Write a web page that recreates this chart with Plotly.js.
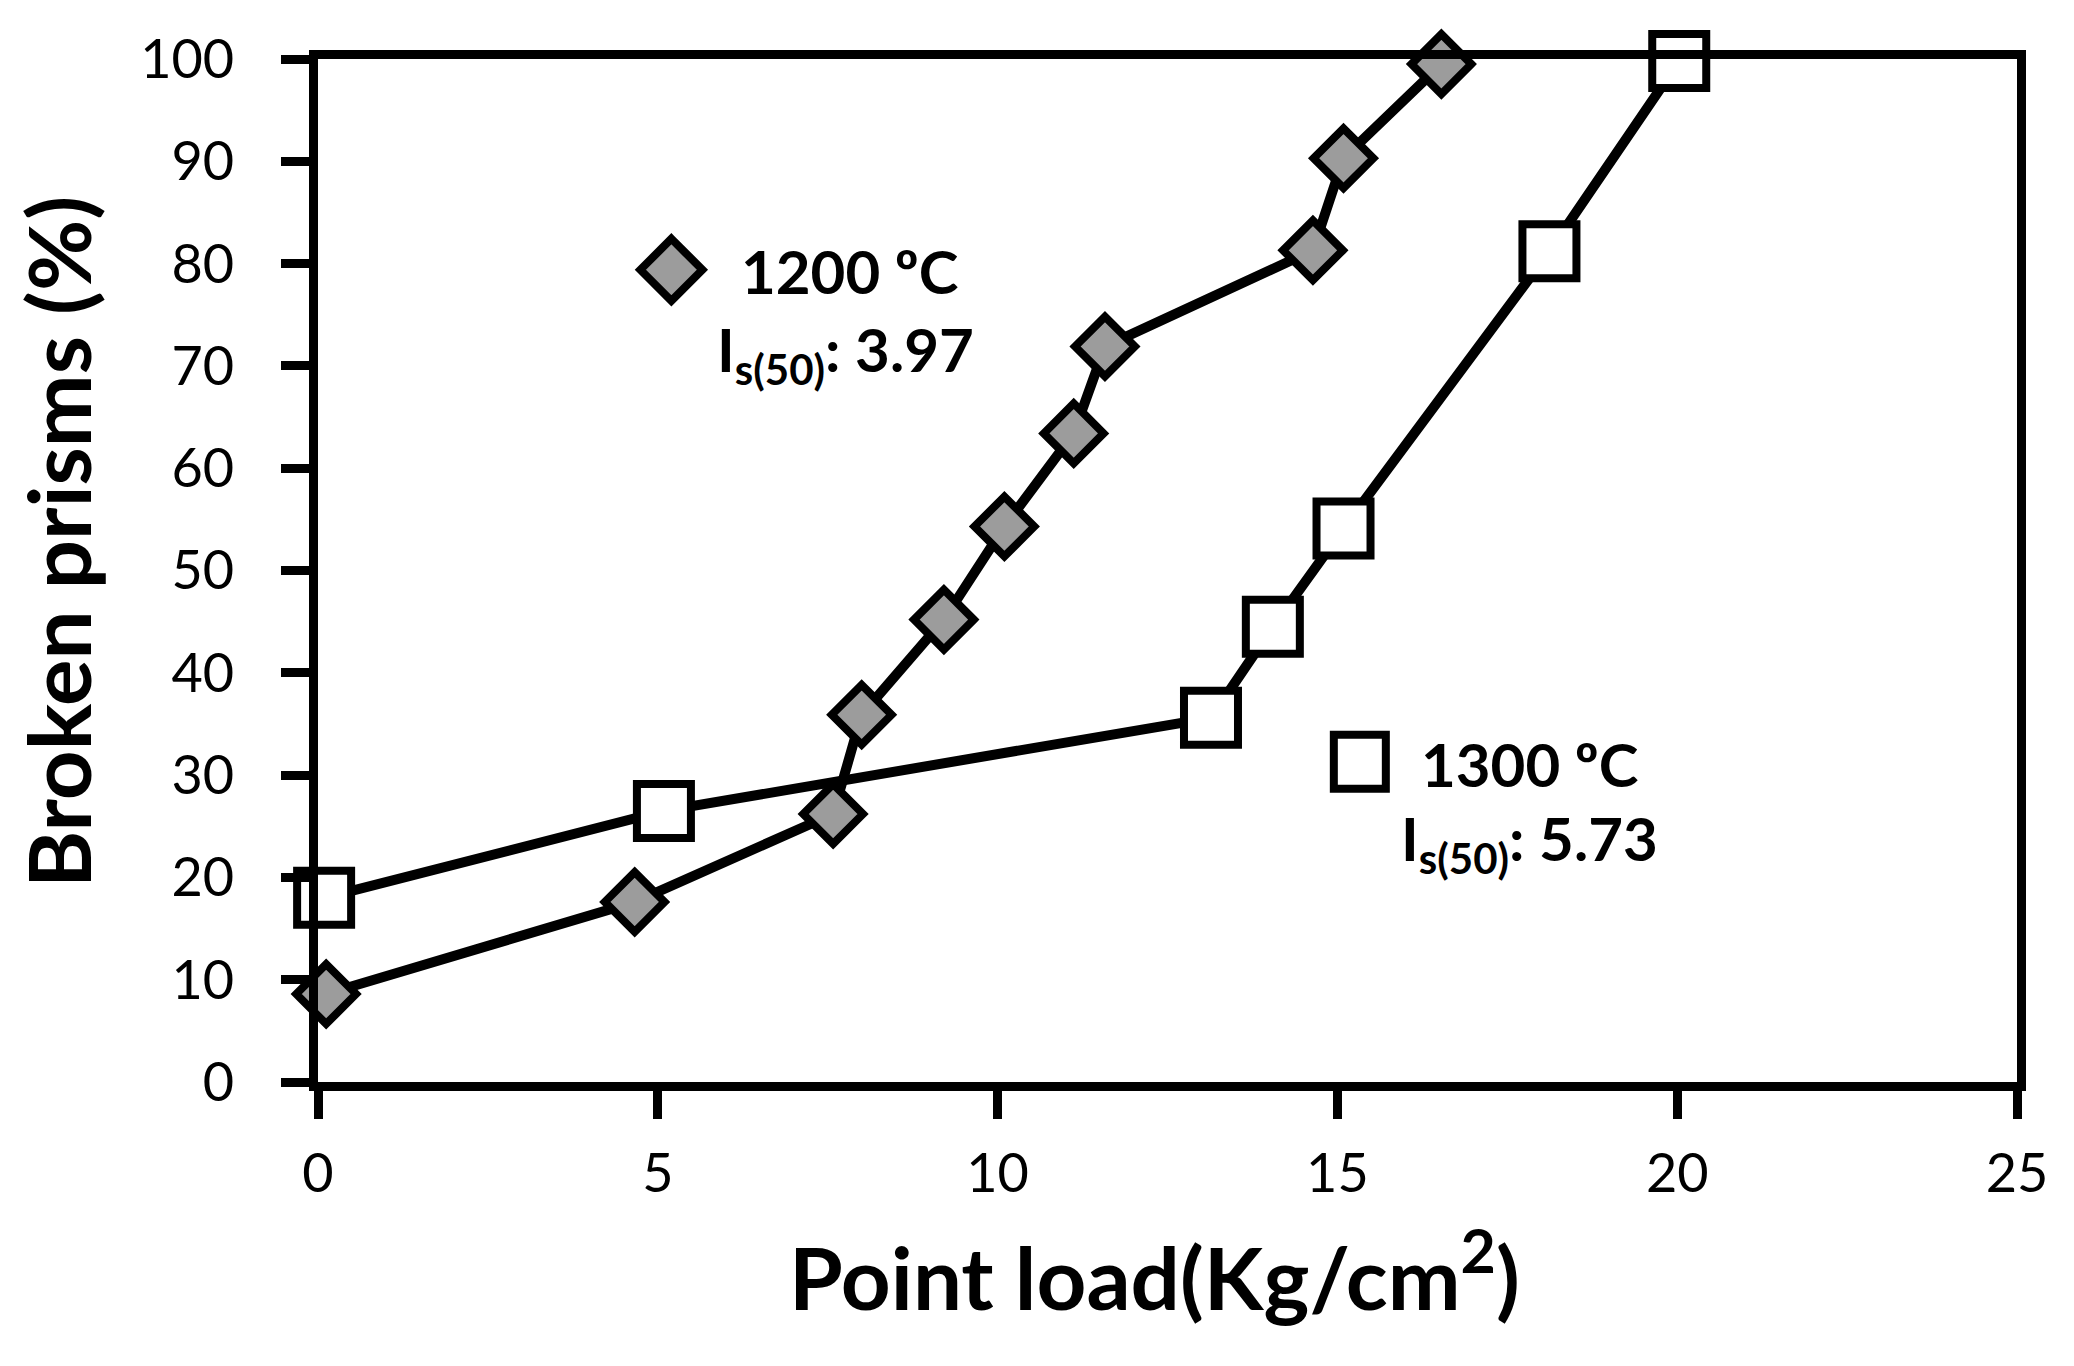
<!DOCTYPE html>
<html>
<head>
<meta charset="utf-8">
<script src="https://cdn.plot.ly/plotly-3.0.1.min.js"></script>
<style>html,body{margin:0;padding:0;background:#fff;}#chart{width:2074px;height:1366px;}</style>
</head>
<body>
<div id="chart"></div>
<script>
// Data
const load1200 = [0.12, 4.66, 7.58, 8.0, 9.21, 10.1, 11.12, 11.58, 14.64, 15.09, 16.53];
const broken1200 = [8.6, 17.6, 26.2, 35.9, 45.2, 54.3, 63.4, 71.9, 81.3, 90.3, 99.5];
const load1300 = [0.09, 5.09, 13.14, 14.05, 15.09, 18.12, 20.03];
const broken1300 = [18.0, 26.5, 35.6, 44.5, 54.1, 81.2, 99.8];
const xTicks = [0, 5, 10, 15, 20, 25];
const yTicks = [0, 10, 20, 30, 40, 50, 60, 70, 80, 90, 100];
const labels = ['1200 ºC', '1300 ºC'];
const isValues = ['3.97', '5.73'];
const xTitle = 'Point load(Kg/cm<sup>2</sup>)';
const yTitle = 'Broken prisms (%)';

const FONT = 'Lato, "Open Sans", sans-serif';
const LW = 9;

const traces = [
  {
    x: load1200, y: broken1200, type: 'scatter', mode: 'lines+markers', name: labels[0],
    line: {color: '#000', width: 10},
    marker: {symbol: 'diamond', size: 46, color: '#9c9c9c', line: {color: '#000', width: 8}},
    cliponaxis: false
  },
  {
    x: load1300, y: broken1300, type: 'scatter', mode: 'lines+markers', name: labels[1],
    line: {color: '#000', width: 10},
    marker: {symbol: 'square', size: 54, color: '#fff', line: {color: '#000', width: 8}},
    cliponaxis: false
  }
];

const labelFont = {family: FONT, size: 60, color: '#000', weight: 'bold'};

const layout = {
  width: 2074, height: 1366,
  margin: {l: 318, r: 57, t: 59, b: 284},
  paper_bgcolor: '#fff', plot_bgcolor: '#fff',
  showlegend: false,
  font: {family: FONT, color: '#000'},
  xaxis: {
    range: [0, 25], tickvals: xTicks, ticktext: xTicks.map(String),
    showgrid: false, zeroline: false,
    showline: true, linecolor: '#000', linewidth: LW, mirror: true,
    ticks: 'outside', ticklen: 28, tickwidth: LW, tickcolor: '#000',
    ticklabelstandoff: 8,
    tickfont: {family: FONT, size: 54, color: '#000'}
  },
  yaxis: {
    range: [0, 100], tickvals: yTicks, ticktext: yTicks.map(String),
    showgrid: false, zeroline: false,
    showline: true, linecolor: '#000', linewidth: LW, mirror: true,
    ticks: 'outside', ticklen: 28, tickwidth: LW, tickcolor: '#000',
    ticklabelstandoff: 36,
    tickfont: {family: FONT, size: 54, color: '#000'}
  },
  shapes: [
    {type: 'path', xref: 'x', yref: 'y', xsizemode: 'pixel', ysizemode: 'pixel',
     xanchor: 5.2, yanchor: 79.4, path: 'M0,31 L31,0 L0,-31 L-31,0 Z',
     fillcolor: '#9c9c9c', line: {color: '#000', width: 8}},
    {type: 'rect', xref: 'x', yref: 'y', xsizemode: 'pixel', ysizemode: 'pixel',
     xanchor: 15.33, yanchor: 31.3, x0: -26, x1: 26, y0: -27, y1: 27,
     fillcolor: '#fff', line: {color: '#000', width: 8}}
  ],
  annotations: [
    {x: 6.2, y: 79.3, xref: 'x', yref: 'y', xanchor: 'left', yanchor: 'middle', showarrow: false,
     text: labels[0], font: labelFont},
    {x: 5.84, y: 71.2, xref: 'x', yref: 'y', xanchor: 'left', yanchor: 'middle', showarrow: false,
     text: 'I<sub>s(50)</sub>: ' + isValues[0], font: labelFont},
    {x: 16.2, y: 31.1, xref: 'x', yref: 'y', xanchor: 'left', yanchor: 'middle', showarrow: false,
     text: labels[1], font: labelFont},
    {x: 15.9, y: 23.4, xref: 'x', yref: 'y', xanchor: 'left', yanchor: 'middle', showarrow: false,
     text: 'I<sub>s(50)</sub>: ' + isValues[1], font: labelFont},
    {x: 0.4926, y: -0.185, xref: 'paper', yref: 'paper', xanchor: 'center', yanchor: 'middle', showarrow: false,
     text: xTitle, font: {family: FONT, size: 87, color: '#000', weight: 'bold'}},
    {x: -0.153, y: 0.528, xref: 'paper', yref: 'paper', xanchor: 'center', yanchor: 'middle', showarrow: false,
     textangle: -90, text: yTitle, font: {family: FONT, size: 87, color: '#000', weight: 'bold'}}
  ]
};

Plotly.newPlot('chart', traces, layout, {displayModeBar: false, staticPlot: true});
</script>
</body>
</html>
